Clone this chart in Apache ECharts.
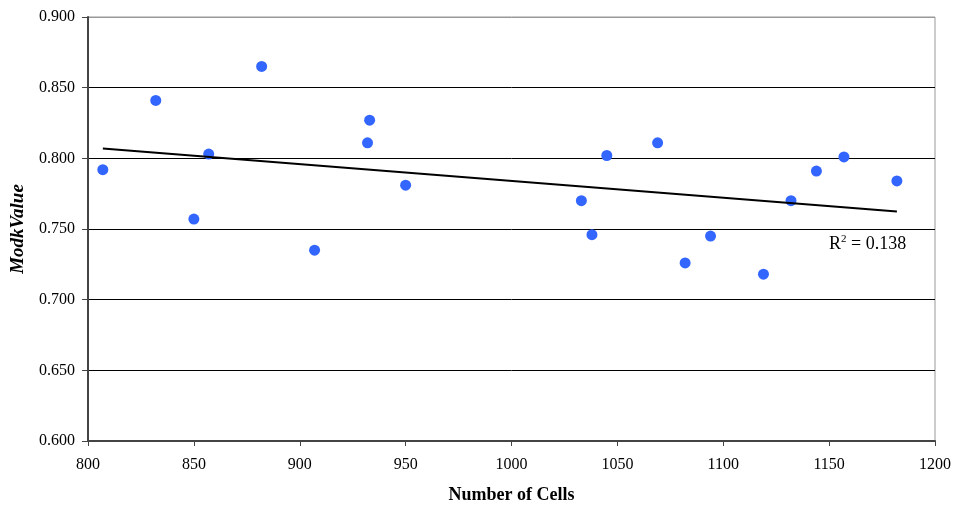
<!DOCTYPE html>
<html>
<head>
<meta charset="utf-8">
<script src="https://cdn.jsdelivr.net/npm/echarts@6/dist/echarts.min.js"></script>
<style>
  html, body { margin: 0; padding: 0; background: #fff; }
  #main { width: 954px; height: 509px; }
</style>
</head>
<body>
<div id="main"></div>
<script>
// number of cells (x)
const cells = [807, 832, 850, 857, 882, 907, 932, 933, 950, 1033, 1038, 1045, 1069, 1082, 1094, 1119, 1132, 1144, 1157, 1182];
// ModkValue (y)
const modk = [0.792, 0.841, 0.757, 0.803, 0.865, 0.735, 0.811, 0.827, 0.781, 0.770, 0.746, 0.802, 0.811, 0.726, 0.745, 0.718, 0.770, 0.791, 0.801, 0.784];
const r2Label = '0.138';

// least squares trend line through the points
const n = cells.length;
const mx = cells.reduce((a, b) => a + b, 0) / n;
const my = modk.reduce((a, b) => a + b, 0) / n;
let sxy = 0, sxx = 0;
for (let i = 0; i < n; i++) {
  sxy += (cells[i] - mx) * (modk[i] - my);
  sxx += (cells[i] - mx) * (cells[i] - mx);
}
const slope = sxy / sxx;
const xMin = Math.min(...cells), xMax = Math.max(...cells);
const trend = [[xMin, my + slope * (xMin - mx)], [xMax, my + slope * (xMax - mx)]];

const font = '"Liberation Serif", "Times New Roman", serif';
const chart = echarts.init(document.getElementById('main'));
chart.setOption({
  animation: false,
  grid: { left: 88, right: 18, top: 17, bottom: 67, show: true, borderColor: '#999', borderWidth: 1 },
  xAxis: {
    type: 'value', min: 800, max: 1200, interval: 50,
    name: 'Number of Cells', nameLocation: 'middle', nameGap: 45,
    nameTextStyle: { fontFamily: font, fontWeight: 'bold', fontSize: 18, color: '#000' },
    axisLine: { lineStyle: { color: '#444', width: 2 } },
    axisTick: { show: true, length: 5, lineStyle: { color: '#444', width: 1 } },
    axisLabel: { fontFamily: font, fontSize: 16, color: '#000', margin: 16, formatter: v => String(v) },
    splitLine: { show: false }
  },
  yAxis: {
    type: 'value', min: 0.6, max: 0.9, interval: 0.05,
    name: 'ModkValue', nameLocation: 'middle', nameGap: 60, nameRotate: 90,
    nameTextStyle: { fontFamily: font, fontWeight: 'bold', fontStyle: 'italic', fontSize: 19, color: '#000' },
    axisLine: { show: true, lineStyle: { color: '#444', width: 2 } },
    axisTick: { show: true, length: 6, lineStyle: { color: '#444', width: 1 } },
    axisLabel: { fontFamily: font, fontSize: 16, color: '#000', margin: 13, formatter: v => v.toFixed(3) },
    splitLine: { show: true, lineStyle: { color: ['#000', '#000', '#000', '#000', '#000', '#000', '#999'], width: 1 } }
  },
  series: [
    {
      type: 'scatter',
      data: cells.map((c, i) => [c, modk[i]]),
      symbolSize: 11,
      itemStyle: { color: '#3366ff', opacity: 1 },
      z: 3
    },
    {
      type: 'line',
      data: trend,
      symbol: 'none',
      lineStyle: { color: '#000', width: 2 },
      z: 4
    }
  ],
  graphic: [{
    type: 'text', left: 829, top: 234,
    style: {
      text: '{r|R}{s|2}{r| = ' + r2Label + '}',
      rich: {
        r: { fontFamily: font, fontSize: 18, fill: '#000', verticalAlign: 'bottom' },
        s: { fontFamily: font, fontSize: 11, fill: '#000', verticalAlign: 'top', padding: [0, 0, 8, 0] }
      }
    }
  }]
});
</script>
</body>
</html>
